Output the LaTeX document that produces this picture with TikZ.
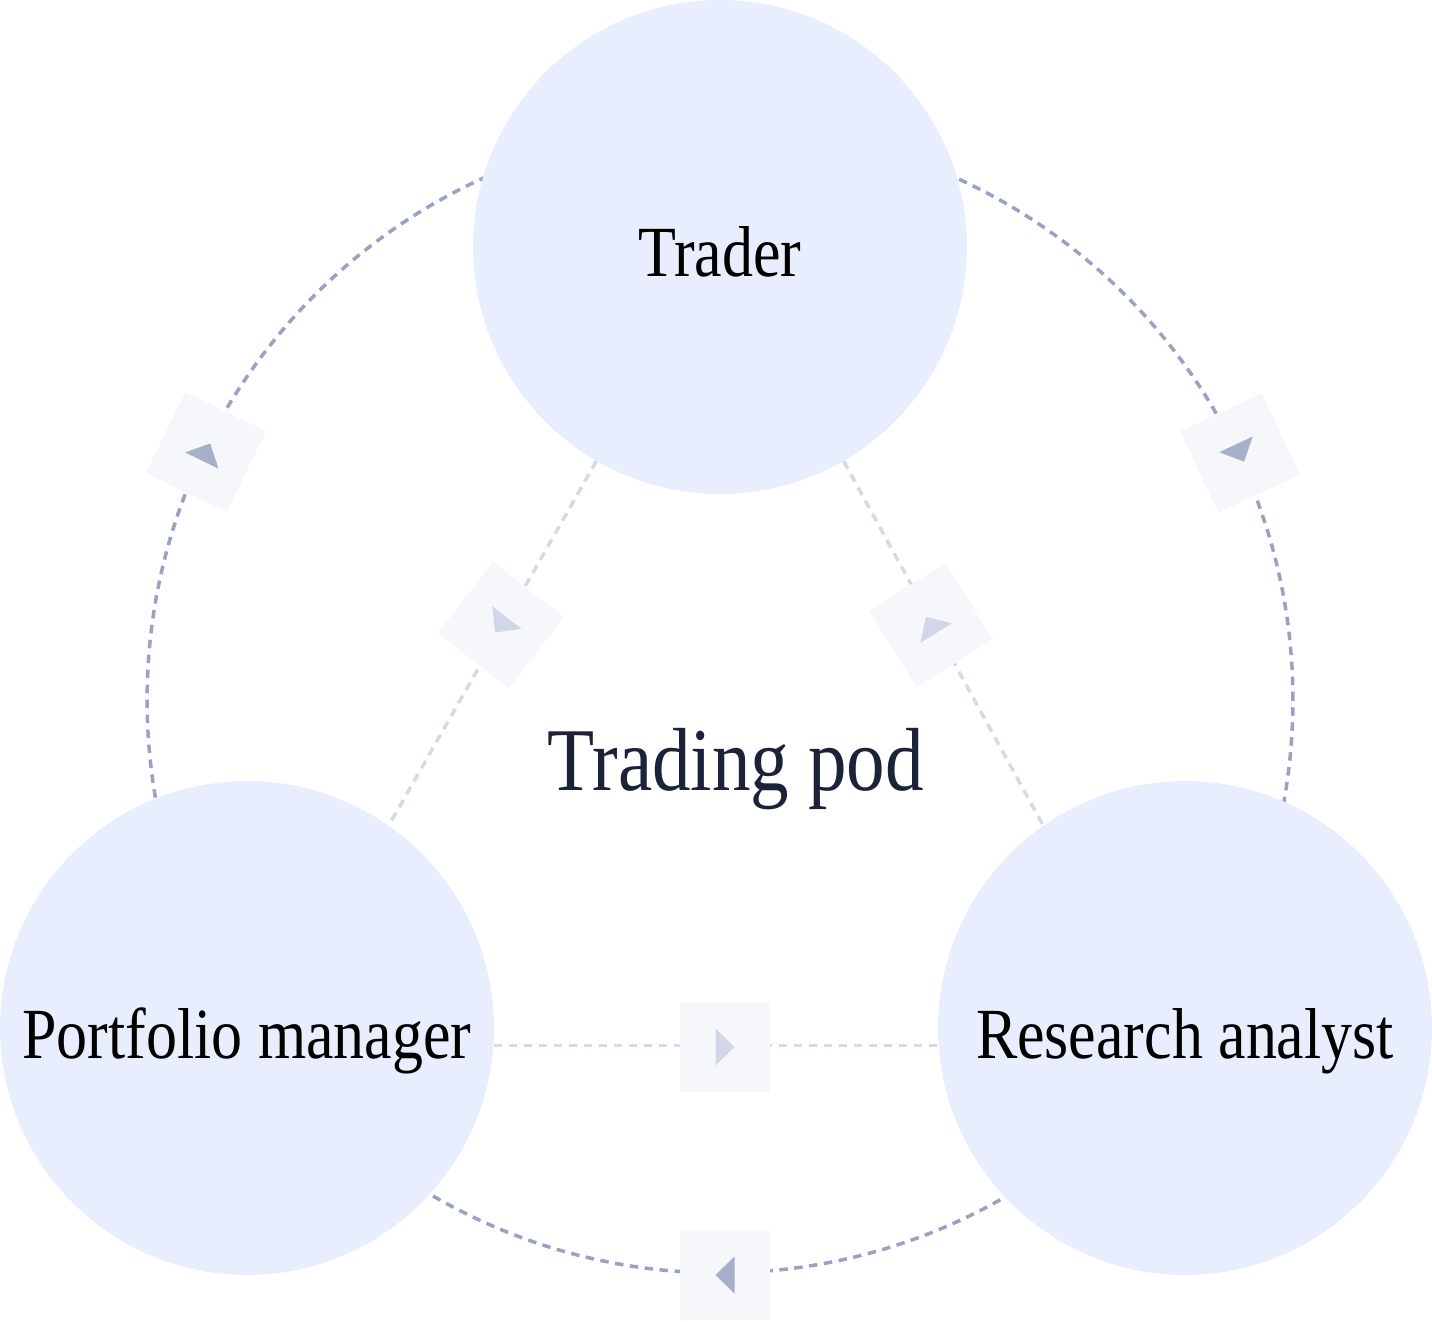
\documentclass[tikz,border=0pt]{standalone}
\usepackage{fontspec}
\setmainfont{Liberation Serif}[FakeStretch=0.86]
\usetikzlibrary{positioning}

\definecolor{podfill}{HTML}{E9EEFF}
\definecolor{podtext}{HTML}{1C2238}
\definecolor{ringblue}{HTML}{98A2C1}
\definecolor{linkgray}{HTML}{D6D9E8}
\definecolor{markbg}{HTML}{F6F7FB}
\definecolor{tipdark}{HTML}{A6B0CB}
\definecolor{tiplight}{HTML}{D2D6E9}

\tikzset{
  member/.style={circle, fill=podfill, minimum size=9.88cm, inner sep=0pt,
    font=\fontsize{41}{41}\selectfont, text=black, text height=1.2cm, text depth=0pt},
  ringline/.style={draw=ringblue, line width=0.07cm, dash pattern=on 0.17cm off 0.13cm},
  linkline/.style={draw=linkgray, line width=0.07cm, dash pattern=on 0.17cm off 0.13cm},
  markbox/.style={rectangle, fill=markbg, minimum size=1.8cm, inner sep=0pt},
}

% #1 name, #2 position, #3 heading, #4 tip colour
\newcommand{\flowmark}[4]{%
  \node[markbox, rotate=-#3] (#1) at (#2) {};
  \fill[#4] ([shift={(#3:9.5)}]#1.center) -- ([shift={(#3+117.2:20.8)}]#1.center)
    -- ([shift={(#3-117.2:20.8)}]#1.center) -- cycle;
}

\begin{document}
\begin{tikzpicture}[x=0.02cm, y=-0.02cm]
	\useasboundingbox (0,0) rectangle (1432,1321);
	\coordinate (hub) at (720,700);
	\draw[ringline] (hub) circle[radius=11.46cm];

	\node[member] (T) at (720,247) {Trader};
	\node[member] (PM) at (247,1028) {Portfolio manager};
	\node[member] (RA) at (1185,1028) {Research analyst};
	\node[anchor=base, font=\fontsize{51}{51}\selectfont, text=podtext] (pod) at (736,790) {Trading pod};

	\draw[linkline] (T.240) -- (PM.55);
	\draw[linkline] (T.300) -- (RA.125);
	\draw[linkline] (PM.-4.4) -- (RA.184.4);

	\flowmark{mPT}{206,452}{-64}{tipdark}
	\flowmark{mTR}{1240,453}{65}{tipdark}
	\flowmark{mRP}{725,1275}{180}{tipdark}
	\flowmark{mTP}{501,625}{128}{tiplight}
	\flowmark{mRT}{931,625}{238}{tiplight}
	\flowmark{mPR}{725,1047}{0}{tiplight}
\end{tikzpicture}
\end{document}
